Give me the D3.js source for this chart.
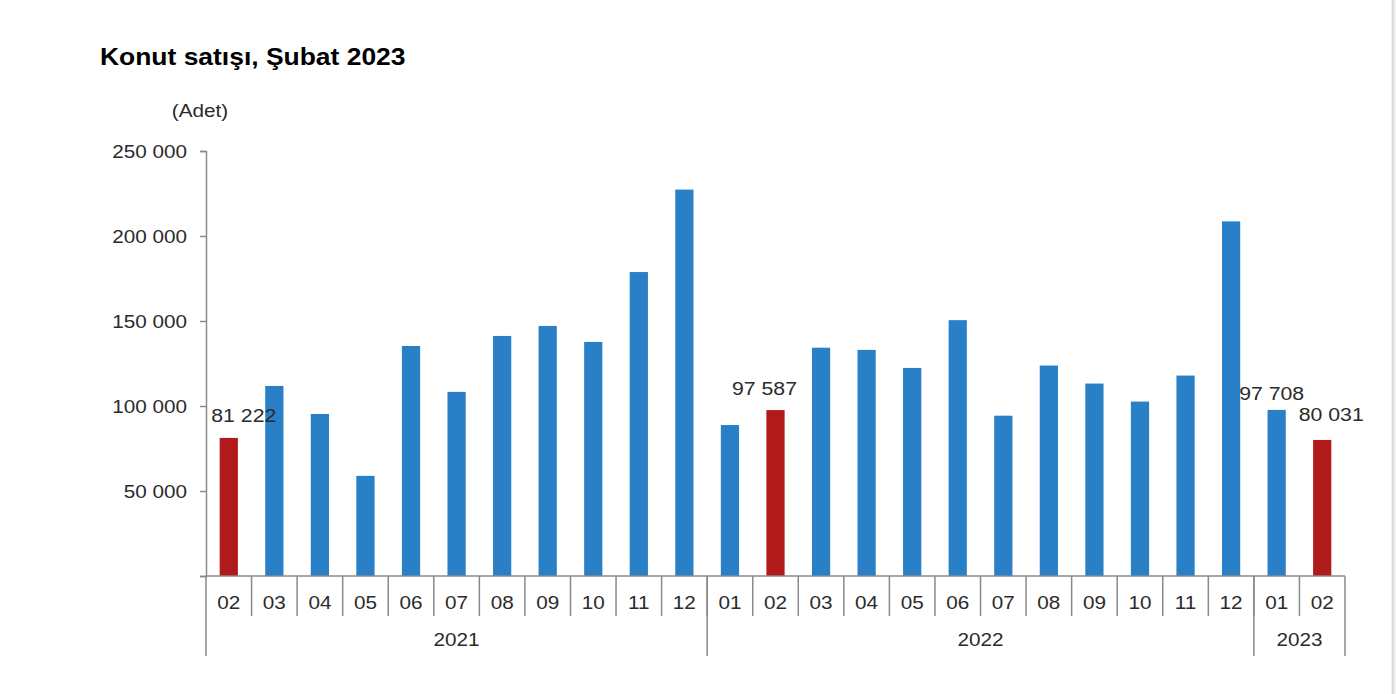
<!DOCTYPE html>
<html>
<head>
<meta charset="utf-8">
<script src="https://cdn.jsdelivr.net/npm/d3@7"></script>
<style>
  html, body { margin: 0; padding: 0; background: #fff; }
  svg { display: block; }
  text { font-family: "Liberation Sans", Arial, sans-serif; }
</style>
</head>
<body>
<svg id="chart" width="1396" height="694"></svg>
<script>
// ---- data ----
const months = ["02","03","04","05","06","07","08","09","10","11","12",
                "01","02","03","04","05","06","07","08","09","10","11","12",
                "01","02"];
const years  = ["2021","2021","2021","2021","2021","2021","2021","2021","2021","2021","2021",
                "2022","2022","2022","2022","2022","2022","2022","2022","2022","2022","2022","2022",
                "2023","2023"];
const sales  = [81222, 111800, 95300, 58900, 135300, 108300, 141200, 147100, 137700, 178800, 227300,
                88800, 97587, 134300, 133000, 122400, 150500, 94300, 123800, 113200, 102600, 117900, 208600,
                97708, 80031];
const labelled = [0, 12, 23, 24];
const yTicks = [0, 50000, 100000, 150000, 200000, 250000];
const title = "Konut satışı, Şubat 2023";
const unit = "(Adet)";

// ---- layout / style ----
const BLUE = "#2a80c6", RED = "#b01a1a", AXIS = "#8a8a8a", TXT = "#2b2b2b";
const SX = 1.15; // horizontal stretch of the reference text
const plotLeft = 206, plotRight = 1345, plotTop = 151, plotBottom = 576;
const labelOffsets = {0: [15, -22], 12: [-11, -22], 23: [-5, -16], 24: [9, -25]};

const svg = d3.select("#chart");
const idx = d3.range(months.length);
const x = d3.scaleBand().domain(idx).range([plotLeft, plotRight]).padding(0);
const y = d3.scaleLinear().domain([0, 250000]).range([plotBottom, plotTop]);
const fmt = d3.formatLocale({decimal: ",", thousands: " ", grouping: [3], currency: ["", ""]}).format(",d");

function stretchText(sel, px, py) {
  return sel.attr("transform", `translate(${px},${py}) scale(${SX},1)`);
}

// right-edge frame line
svg.append("rect").attr("x", 1391).attr("y", 0).attr("width", 5).attr("height", 694).attr("fill", "#f3f3f3");
svg.append("line").attr("x1", 1393).attr("x2", 1393).attr("y1", 0).attr("y2", 694)
  .attr("stroke", "#d4d4d4").attr("stroke-width", 1.5);

// title
stretchText(svg.append("text"), 100, 57)
  .attr("dominant-baseline", "central")
  .attr("font-size", 23).attr("font-weight", "bold").attr("fill", "#000").text(title);

// unit
stretchText(svg.append("text"), 200, 111)
  .attr("dominant-baseline", "central").attr("text-anchor", "middle")
  .attr("font-size", 18).attr("fill", TXT).text(unit);

// y axis
const yAxis = svg.append("g").attr("transform", `translate(${plotLeft},0)`)
  .call(d3.axisLeft(y).tickValues(yTicks).tickSize(6).tickFormat(d => d === 0 ? "" : fmt(d)));
yAxis.select(".domain").attr("stroke", AXIS).attr("stroke-width", 1.5);
yAxis.selectAll(".tick line").attr("stroke", AXIS).attr("stroke-width", 1.5);
yAxis.selectAll(".tick text")
  .attr("x", null).attr("dy", null)
  .attr("transform", `translate(-19,0) scale(${SX},1)`)
  .attr("dominant-baseline", "central")
  .attr("font-size", 18).attr("fill", TXT).attr("font-family", "Liberation Sans, Arial, sans-serif");

// bars
svg.append("g").selectAll("rect").data(idx).join("rect")
  .attr("x", i => x(i) + x.bandwidth() * 0.3)
  .attr("width", x.bandwidth() * 0.4)
  .attr("y", i => y(sales[i]))
  .attr("height", i => y(0) - y(sales[i]))
  .attr("fill", i => months[i] === "02" ? RED : BLUE);

// x axis base line
svg.append("line").attr("x1", plotLeft).attr("x2", plotRight).attr("y1", plotBottom).attr("y2", plotBottom)
  .attr("stroke", AXIS).attr("stroke-width", 1.5);

// month separators
const boundaries = idx.slice(1).map(i => x(i));
svg.append("g").selectAll("line").data(boundaries).join("line")
  .attr("x1", d => d).attr("x2", d => d).attr("y1", plotBottom).attr("y2", 616)
  .attr("stroke", AXIS).attr("stroke-width", 1.5);

// year separators
const yearNames = Array.from(new Set(years));
const yearSpans = yearNames.map(yr => {
  const ii = idx.filter(i => years[i] === yr);
  return {yr, x0: x(ii[0]), x1: x(ii[ii.length - 1]) + x.bandwidth()};
});
const yearEdges = [yearSpans[0].x0].concat(yearSpans.map(s => s.x1));
svg.append("g").selectAll("line").data(yearEdges).join("line")
  .attr("x1", d => d).attr("x2", d => d).attr("y1", plotBottom).attr("y2", 656)
  .attr("stroke", AXIS).attr("stroke-width", 1.5);

// month labels
svg.append("g").selectAll("text").data(idx).join("text")
  .attr("transform", i => `translate(${x(i) + x.bandwidth() / 2},603) scale(${SX},1)`)
  .attr("text-anchor", "middle").attr("dominant-baseline", "central")
  .attr("font-size", 18).attr("fill", TXT).text(i => months[i]);

// year labels
svg.append("g").selectAll("text").data(yearSpans).join("text")
  .attr("transform", s => `translate(${(s.x0 + s.x1) / 2},640) scale(${SX},1)`)
  .attr("text-anchor", "middle").attr("dominant-baseline", "central")
  .attr("font-size", 18).attr("fill", TXT).text(s => s.yr);

// value labels
svg.append("g").selectAll("text").data(labelled).join("text")
  .attr("transform", i => `translate(${x(i) + x.bandwidth() / 2 + labelOffsets[i][0]},${y(sales[i]) + labelOffsets[i][1]}) scale(${SX},1)`)
  .attr("text-anchor", "middle").attr("dominant-baseline", "central")
  .attr("font-size", 18.5).attr("fill", TXT).text(i => fmt(sales[i]));
</script>
</body>
</html>
